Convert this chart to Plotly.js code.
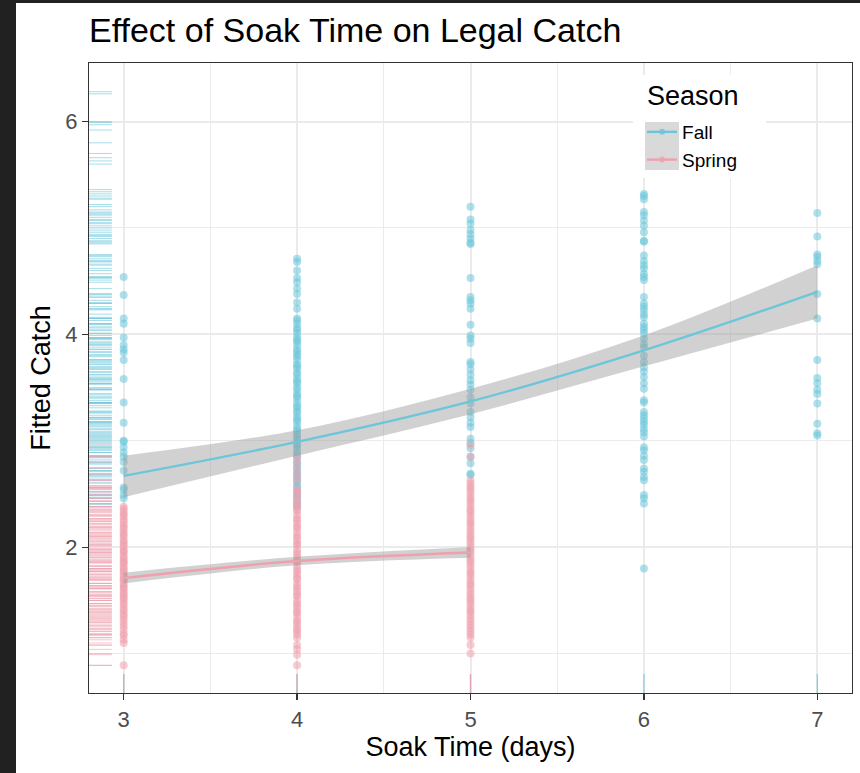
<!DOCTYPE html>
<html>
<head>
<meta charset="utf-8">
<script src="https://cdn.plot.ly/plotly-3.0.1.min.js"></script>
<style>
  html, body { margin: 0; padding: 0; background: #212121; width: 860px; height: 773px; overflow: hidden; }
  #chart { position: absolute; left: 16px; top: 3px; width: 844px; height: 770px; background: #ffffff; }
</style>
</head>
<body>
<div id="chart"></div>
<script>
// ---------------- data ----------------
const soakDays = [3, 4, 5, 6, 7];
const seasons = ["Fall", "Spring"];

// fitted catch per individual observation, grouped by soak time
const fall3 = [4.54, 4.37, 4.15, 4.10, 3.97, 3.90, 3.86, 3.83, 3.76, 3.58, 3.36, 3.17, 3.00, 2.99, 2.94, 2.89, 2.85, 2.80, 2.72, 2.56, 2.54, 2.49, 2.46];
const fall4 = [4.71, 4.68, 4.60, 4.53, 4.49, 4.43, 4.38, 4.30, 4.24, 4.15, 4.13, 4.10, 4.06, 4.04, 4.01, 3.97, 3.95, 3.93, 3.90, 3.86, 3.84, 3.81, 3.79, 3.76, 3.72, 3.70, 3.68, 3.64, 3.62, 3.58, 3.56, 3.54, 3.50, 3.48, 3.44, 3.42, 3.40, 3.36, 3.33, 3.31, 3.28, 3.26, 3.22, 3.20, 3.18, 3.14, 3.11, 3.09, 3.06, 3.03, 3.01, 2.97, 2.95, 2.92, 2.89, 2.86, 2.84, 2.80, 2.78, 2.75, 2.72, 2.69, 2.67, 2.64, 2.61, 2.58, 2.56, 2.52, 2.49, 2.47, 2.43, 2.40, 2.38];
const fall5 = [5.20, 5.08, 5.04, 4.98, 4.94, 4.90, 4.86, 4.85, 4.53, 4.35, 4.32, 4.29, 4.24, 4.09, 3.99, 3.96, 3.92, 3.74, 3.72, 3.67, 3.62, 3.57, 3.53, 3.48, 3.41, 3.35, 3.27, 3.22, 3.17, 3.13, 3.02, 2.98, 2.93, 2.85, 2.79, 2.69, 2.68];
const fall6 = [5.32, 5.30, 5.27, 5.15, 5.12, 5.07, 5.02, 4.96, 4.88, 4.87, 4.74, 4.69, 4.65, 4.62, 4.57, 4.54, 4.51, 4.35, 4.29, 4.26, 4.23, 4.19, 4.16, 4.10, 4.07, 4.04, 4.01, 3.96, 3.91, 3.88, 3.80, 3.74, 3.69, 3.65, 3.60, 3.54, 3.49, 3.38, 3.36, 3.27, 3.24, 3.21, 3.18, 3.15, 3.11, 3.08, 3.04, 2.94, 2.91, 2.86, 2.82, 2.74, 2.71, 2.66, 2.63, 2.49, 2.46, 2.41, 1.80];
const fall7 = [5.14, 4.92, 4.75, 4.73, 4.69, 4.66, 4.38, 4.15, 3.76, 3.59, 3.54, 3.48, 3.44, 3.35, 3.16, 3.07, 3.05];

const spring3 = [2.38, 2.36, 2.33, 2.31, 2.29, 2.26, 2.24, 2.21, 2.19, 2.17, 2.14, 2.12, 2.10, 2.07, 2.05, 2.03, 2.01, 1.98, 1.96, 1.95, 1.92, 1.90, 1.88, 1.86, 1.85, 1.82, 1.80, 1.78, 1.77, 1.74, 1.72, 1.70, 1.69, 1.66, 1.64, 1.62, 1.61, 1.58, 1.56, 1.54, 1.52, 1.50, 1.47, 1.45, 1.42, 1.40, 1.37, 1.35, 1.32, 1.29, 1.26, 1.23, 1.19, 1.17, 1.13, 1.10, 0.89];
const spring4 = [2.85, 2.80, 2.74, 2.68, 2.63, 2.55, 2.52, 2.50, 2.46, 2.43, 2.41, 2.38, 2.35, 2.34, 2.30, 2.27, 2.25, 2.22, 2.19, 2.18, 2.14, 2.11, 2.09, 2.06, 2.03, 2.02, 1.98, 1.95, 1.93, 1.90, 1.87, 1.86, 1.82, 1.79, 1.77, 1.74, 1.71, 1.70, 1.66, 1.63, 1.61, 1.58, 1.55, 1.54, 1.50, 1.47, 1.45, 1.42, 1.39, 1.38, 1.34, 1.31, 1.29, 1.26, 1.23, 1.21, 1.18, 1.15, 1.08, 1.04, 0.99, 0.89];
const spring5 = [2.96, 2.85, 2.63, 2.60, 2.57, 2.55, 2.52, 2.49, 2.46, 2.44, 2.41, 2.38, 2.35, 2.33, 2.30, 2.27, 2.24, 2.22, 2.19, 2.16, 2.13, 2.10, 2.08, 2.05, 2.02, 1.99, 1.97, 1.94, 1.91, 1.88, 1.86, 1.83, 1.80, 1.77, 1.75, 1.72, 1.69, 1.66, 1.64, 1.61, 1.58, 1.55, 1.52, 1.50, 1.47, 1.44, 1.41, 1.39, 1.36, 1.33, 1.30, 1.27, 1.24, 1.21, 1.18, 1.15, 1.08, 1.00];

// extra values visible only in the left rug (Fall)
const fallRugExtra = [6.28, 6.26, 6.00, 5.99, 5.97, 5.92, 5.80, 5.70, 5.66, 5.63, 5.60, 5.36, 5.34, 5.28, 5.22, 5.17, 5.13, 5.10, 5.05, 5.00, 4.93];

// smoothed fit with confidence band
const fallFitX = [3, 4, 5, 6, 7];
const fallFit  = [2.67, 2.99, 3.37, 3.85, 4.40];
const fallLo   = [2.47, 2.86, 3.25, 3.70, 4.15];
const fallHi   = [2.86, 3.10, 3.49, 3.99, 4.65];
const springFitX = [3, 4, 5];
const springFit  = [1.71, 1.87, 1.95];
const springLo   = [1.66, 1.83, 1.90];
const springHi   = [1.76, 1.91, 2.00];

// ---------------- styling ----------------
const fallColor = "#6CC6DA";
const springColor = "#EFA0AD";
const bandColor = "rgba(153,153,153,0.45)";
const xRange = [2.8, 7.2];
const yRange = [0.63, 6.55];
const FONT = "Liberation Sans, Arial, sans-serif";

function groupXY(groups) {
  const xs = [], ys = [];
  groups.forEach(([x, vals]) => vals.forEach(v => { xs.push(x); ys.push(v); }));
  return {x: xs, y: ys};
}
const fallPts = groupXY([[3, fall3], [4, fall4], [5, fall5], [6, fall6], [7, fall7]]);
const springPts = groupXY([[3, spring3], [4, spring4], [5, spring5]]);

const rugLenX = 0.03 * (xRange[1] - xRange[0]);
const rugLenY = 0.03 * (yRange[1] - yRange[0]);
function leftRug(vals) {
  const xs = [], ys = [];
  vals.forEach(v => { xs.push(xRange[0], xRange[0] + rugLenX, null); ys.push(v, v, null); });
  return {x: xs, y: ys};
}
function bottomRug(vals) {
  const xs = [], ys = [];
  vals.forEach(v => { xs.push(v, v, null); ys.push(yRange[0], yRange[0] + rugLenY, null); });
  return {x: xs, y: ys};
}
const fallLeftRug = leftRug(fallPts.y.concat(fallRugExtra));
const springLeftRug = leftRug(springPts.y);
const fallBottomRug = bottomRug([3, 4, 5, 6, 7]);
const springBottomRug = bottomRug([3, 4, 5]);

const skip = {showlegend: false, hoverinfo: "skip"};
const traces = [
  Object.assign({type: "scatter", mode: "markers", x: fallPts.x, y: fallPts.y,
   marker: {color: fallColor, size: 8, opacity: 0.55}}, skip),
  Object.assign({type: "scatter", mode: "markers", x: springPts.x, y: springPts.y,
   marker: {color: springColor, size: 8, opacity: 0.55}}, skip),
  // Fall band + line
  Object.assign({type: "scatter", mode: "lines", x: fallFitX, y: fallLo, line: {width: 0, shape: "spline"}}, skip),
  Object.assign({type: "scatter", mode: "lines", x: fallFitX, y: fallHi, line: {width: 0, shape: "spline"},
   fill: "tonexty", fillcolor: bandColor}, skip),
  Object.assign({type: "scatter", mode: "lines", x: fallFitX, y: fallFit,
   line: {color: fallColor, width: 2.4, shape: "spline"}}, skip),
  // Spring band + line
  Object.assign({type: "scatter", mode: "lines", x: springFitX, y: springLo, line: {width: 0, shape: "spline"}}, skip),
  Object.assign({type: "scatter", mode: "lines", x: springFitX, y: springHi, line: {width: 0, shape: "spline"},
   fill: "tonexty", fillcolor: bandColor}, skip),
  Object.assign({type: "scatter", mode: "lines", x: springFitX, y: springFit,
   line: {color: springColor, width: 2.4, shape: "spline"}}, skip),
  // rugs
  Object.assign({type: "scatter", mode: "lines", x: fallLeftRug.x, y: fallLeftRug.y,
   line: {color: "rgba(108,198,218,0.6)", width: 1}}, skip),
  Object.assign({type: "scatter", mode: "lines", x: springLeftRug.x, y: springLeftRug.y,
   line: {color: "rgba(239,160,173,0.6)", width: 1}}, skip),
  Object.assign({type: "scatter", mode: "lines", x: fallBottomRug.x, y: fallBottomRug.y,
   line: {color: "rgba(108,198,218,0.85)", width: 1.2}}, skip),
  Object.assign({type: "scatter", mode: "lines", x: springBottomRug.x, y: springBottomRug.y,
   line: {color: "rgba(239,160,173,0.85)", width: 1.2}}, skip),
  // legend keys
  {type: "scatter", mode: "lines+markers", x: [null], y: [null], name: seasons[0],
   line: {color: fallColor, width: 2.4}, marker: {color: fallColor, size: 6, opacity: 0.8}},
  {type: "scatter", mode: "lines+markers", x: [null], y: [null], name: seasons[1],
   line: {color: springColor, width: 2.4}, marker: {color: springColor, size: 6, opacity: 0.8}}
];

const gridCol = "#EBEBEB";
const axisCommon = {
  showline: true, mirror: true, linecolor: "#333333", linewidth: 1.2,
  ticks: "outside", ticklen: 6, tickwidth: 1.3, tickcolor: "#333333",
  gridcolor: gridCol, gridwidth: 2, zeroline: false,
  tickfont: {family: FONT, size: 22, color: "#4D4D4D"},
  automargin: false
};

const layout = {
  width: 844, height: 770,
  margin: {l: 73, r: 8, t: 60, b: 80},
  paper_bgcolor: "#FFFFFF", plot_bgcolor: "#FFFFFF",
  font: {family: FONT, color: "#000000"},
  title: {text: "Effect of Soak Time on Legal Catch", x: 0, xref: "paper", xanchor: "left",
          y: 0.965, yref: "container", yanchor: "middle",
          font: {family: FONT, size: 34, color: "#000000"}},
  xaxis: Object.assign({}, axisCommon, {
    range: xRange, tickvals: soakDays, ticktext: soakDays.map(String),
    minor: {tick0: 3.5, dtick: 1, showgrid: true, gridcolor: gridCol, gridwidth: 1, ticks: ""},
    title: {text: "Soak Time (days)", standoff: 4, font: {family: FONT, size: 27, color: "#000000"}}
  }),
  yaxis: Object.assign({}, axisCommon, {
    range: yRange, tickvals: [2, 4, 6], ticktext: ["2", "4", "6"],
    minor: {tick0: 1, dtick: 2, showgrid: true, gridcolor: gridCol, gridwidth: 1, ticks: ""},
    title: {text: "Fitted Catch", standoff: 6, font: {family: FONT, size: 27, color: "#000000"}}
  }),
  legend: {x: 0.7248, y: 0.9206, xanchor: "left", yanchor: "top", bgcolor: "rgba(0,0,0,0)",
           traceorder: "normal", font: {family: FONT, size: 19},
           itemwidth: 30, tracegroupgap: 0},
  annotations: [
    {text: "Season", xref: "paper", yref: "paper", x: 0.7287, y: 1 - (93 - 60) / 630,
     xanchor: "left", yanchor: "middle", showarrow: false,
     font: {family: FONT, size: 27, color: "#000000"}}
  ],
  shapes: [
    {type: "rect", xref: "paper", yref: "paper", x0: 0.713, x1: 0.8873, y0: 0.8175, y1: 0.981,
     fillcolor: "#FFFFFF", line: {width: 0}, layer: "above"},
    {type: "rect", xref: "paper", yref: "paper", x0: 0.7287, x1: 0.7733, y0: 0.8302, y1: 0.9063,
     fillcolor: "#D9D9D9", line: {width: 0}, layer: "above"}
  ]
};

Plotly.newPlot("chart", traces, layout, {displayModeBar: false, staticPlot: true});
</script>
</body>
</html>
